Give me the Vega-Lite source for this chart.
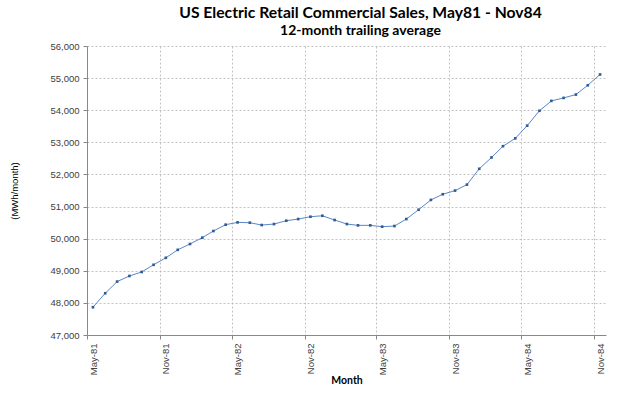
{
  "$schema": "https://vega.github.io/schema/vega-lite/v6.json",
  "width": 519,
  "height": 289,
  "autosize": {"type": "none"},
  "padding": {"left": 87, "top": 46, "right": 22, "bottom": 58},
  "background": "white",
  "title": {
    "text": "US Electric Retail Commercial Sales, May81 - Nov84",
    "subtitle": "12-month trailing average",
    "font": "Lato",
    "fontSize": 15.7,
    "fontWeight": "bold",
    "color": "#000000",
    "subtitleFont": "Lato",
    "subtitleFontSize": 14,
    "subtitleFontWeight": "bold",
    "subtitleColor": "#000000",
    "subtitlePadding": 2,
    "anchor": "middle",
    "dx": 14,
    "offset": 2
  },
  "data": {
    "values": [
      {"month": "1981-05-16", "sales": 47865},
      {"month": "1981-06-16", "sales": 48300},
      {"month": "1981-07-16", "sales": 48663},
      {"month": "1981-08-16", "sales": 48838},
      {"month": "1981-09-16", "sales": 48963},
      {"month": "1981-10-16", "sales": 49186},
      {"month": "1981-11-16", "sales": 49404},
      {"month": "1981-12-16", "sales": 49652},
      {"month": "1982-01-16", "sales": 49834},
      {"month": "1982-02-16", "sales": 50031},
      {"month": "1982-03-16", "sales": 50238},
      {"month": "1982-04-16", "sales": 50435},
      {"month": "1982-05-16", "sales": 50507},
      {"month": "1982-06-16", "sales": 50497},
      {"month": "1982-07-16", "sales": 50424},
      {"month": "1982-08-16", "sales": 50455},
      {"month": "1982-09-16", "sales": 50559},
      {"month": "1982-10-16", "sales": 50611},
      {"month": "1982-11-16", "sales": 50683},
      {"month": "1982-12-16", "sales": 50714},
      {"month": "1983-01-16", "sales": 50580},
      {"month": "1983-02-16", "sales": 50455},
      {"month": "1983-03-16", "sales": 50414},
      {"month": "1983-04-16", "sales": 50414},
      {"month": "1983-05-16", "sales": 50373},
      {"month": "1983-06-16", "sales": 50393},
      {"month": "1983-07-16", "sales": 50611},
      {"month": "1983-08-16", "sales": 50901},
      {"month": "1983-09-16", "sales": 51207},
      {"month": "1983-10-16", "sales": 51383},
      {"month": "1983-11-16", "sales": 51497},
      {"month": "1983-12-16", "sales": 51683},
      {"month": "1984-01-16", "sales": 52176},
      {"month": "1984-02-16", "sales": 52528},
      {"month": "1984-03-16", "sales": 52880},
      {"month": "1984-04-16", "sales": 53124},
      {"month": "1984-05-16", "sales": 53518},
      {"month": "1984-06-16", "sales": 53983},
      {"month": "1984-07-16", "sales": 54290},
      {"month": "1984-08-16", "sales": 54383},
      {"month": "1984-09-16", "sales": 54487},
      {"month": "1984-10-16", "sales": 54777},
      {"month": "1984-11-16", "sales": 55114}
    ]
  },
  "mark": {"type": "line", "color": "#5B87C5", "strokeWidth": 1, "point": {"filled": true, "shape": "square", "size": 7, "color": "#2F5C96"}},
  "encoding": {
    "x": {
      "field": "month",
      "type": "temporal",
      "title": "Month",
      "scale": {"domain": ["1981-05-01", "1984-12-01"]},
      "axis": {
        "values": ["1981-05-01", "1981-11-01", "1982-05-01", "1982-11-01", "1983-05-01", "1983-11-01", "1984-05-01", "1984-11-01"],
        "format": "%b-%y",
        "labelAngle": -90,
        "labelAlign": "right",
        "labelBaseline": "middle",
        "labelOffset": 6,
        "labelFont": "Liberation Sans",
        "labelFontSize": 9.5,
        "labelColor": "#404040",
        "labelPadding": 4,
        "titleFont": "Lato",
        "titleFontSize": 10.5,
        "titleFontWeight": "bold",
        "titleColor": "#000000",
        "titlePadding": 1,
        "domainColor": "#888888",
        "tickColor": "#888888",
        "tickSize": 4,
        "grid": true,
        "gridColor": "#b4b4b4",
        "gridDash": [2, 2],
        "gridWidth": 0.8
      }
    },
    "y": {
      "field": "sales",
      "type": "quantitative",
      "title": "(MWh/month)",
      "scale": {"domain": [47000, 56000], "nice": false, "zero": false},
      "axis": {
        "values": [47000, 48000, 49000, 50000, 51000, 52000, 53000, 54000, 55000, 56000],
        "format": ",.0f",
        "labelFont": "Liberation Sans",
        "labelFontSize": 9.5,
        "labelColor": "#404040",
        "labelPadding": 4,
        "titleFont": "Liberation Sans",
        "titleFontSize": 9.5,
        "titleFontWeight": "normal",
        "titleColor": "#000000",
        "titlePadding": 30,
        "domainColor": "#888888",
        "tickColor": "#888888",
        "tickSize": 4,
        "grid": true,
        "gridColor": "#b4b4b4",
        "gridDash": [2, 2],
        "gridWidth": 0.8
      }
    }
  },
  "config": {"view": {"stroke": null}}
}
